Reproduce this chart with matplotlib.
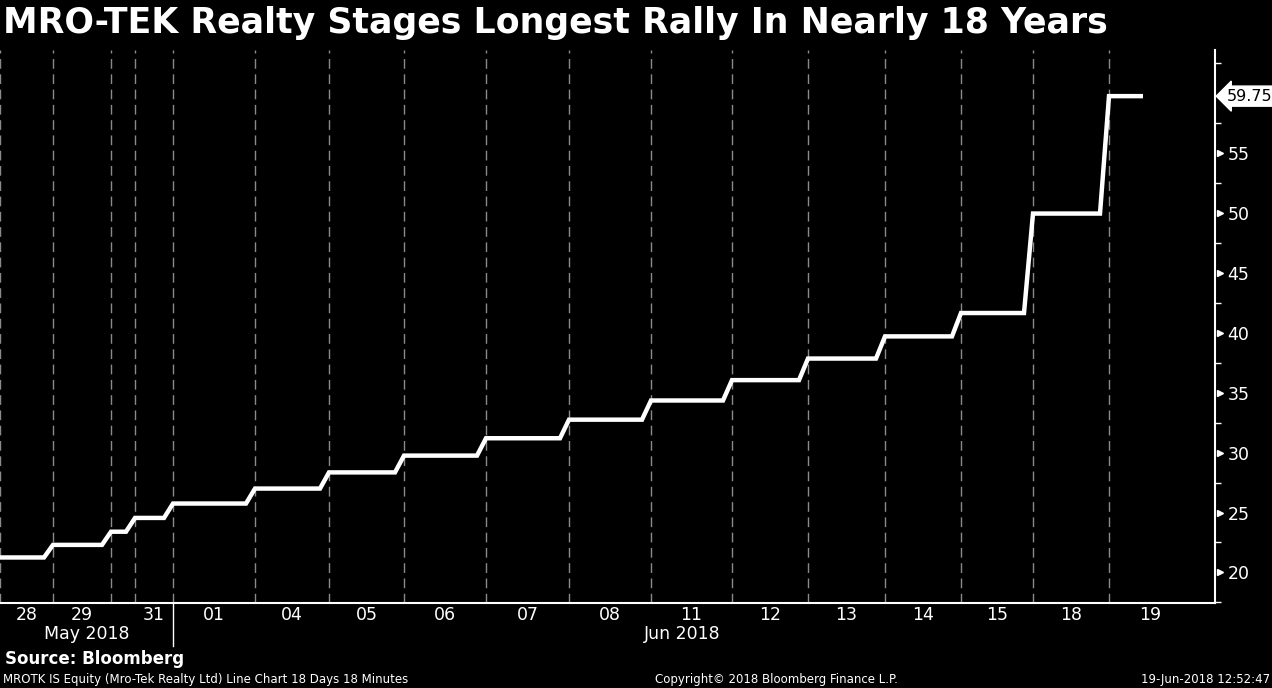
import numpy as np
import matplotlib.pyplot as plt
import matplotlib.transforms as mtransforms

# sessions (bar index at each day's open), last entry = end of the last session
day_labels = ['28', '29', '', '31', '01', '04', '05', '06', '07', '08',
              '11', '12', '13', '14', '15', '18', '19']
session_open = [0, 53, 111, 135, 173, 255, 329, 404, 486, 569, 651, 732,
                808, 885, 961, 1033, 1109, 1191]
# price held all day (upper circuit every session)
day_price = [21.25, 22.30, 23.40, 24.55, 25.75, 27.00, 28.35, 29.75, 31.20,
             32.75, 34.35, 36.05, 37.85, 39.70, 41.65, 49.95, 59.75]
last_bar = 1143      # last minute bar of 19-Jun
close_gap = 9        # bars between last trade and next open
last_price = 59.75

month_labels = ['May 2018', 'Jun 2018']
month_start = [0, 173]
month_end = [173, 1191]

y_major = [20, 25, 30, 35, 40, 45, 50, 55]
y_minor = [17.5, 22.5, 27.5, 32.5, 37.5, 42.5, 47.5, 52.5, 57.5, 62.5]

# build step line
xs, ys = [], []
for i, p in enumerate(day_price):
    start = session_open[i]
    if i < len(day_price) - 1:
        end = session_open[i + 1] - close_gap
    else:
        end = last_bar
    xs += [start, end]
    ys += [p, p]

W, H = 1272, 688
fig = plt.figure(figsize=(W / 100, H / 100), dpi=100, facecolor='black')
ax = fig.add_axes([0, 1 - 603 / H, 1215 / W, 553 / H], facecolor='black')

for x in session_open[:-1]:
    ax.axvline(x, color='#8a8a8a', lw=1, ls=(0, (7, 4)), zorder=1)

ax.plot(xs, ys, color='white', lw=3.2, solid_joinstyle='miter',
        solid_capstyle='butt', zorder=3)

ax.set_xlim(0, 1215)
ax.set_ylim(17.45, 63.6)

for s in ['left', 'top']:
    ax.spines[s].set_visible(False)
for s in ['right', 'bottom']:
    ax.spines[s].set_color('white')
    ax.spines[s].set_linewidth(1.5)

ax.set_xticks([])
ax.yaxis.tick_right()
ax.set_yticks(y_major)
ax.set_yticks(y_minor, minor=True)
ax.tick_params(axis='y', which='major', length=0, pad=9, labelcolor='white',
               labelsize=12.5)
ax.tick_params(axis='y', which='minor', length=4, width=1, color='white',
               direction='out')

# triangle markers on the major ticks
tri = mtransforms.offset_copy(ax.get_yaxis_transform(), fig=fig, x=5, y=0,
                              units='dots')
ax.plot([1.0] * len(y_major), y_major, ls='none', marker='>', ms=5,
        color='white', transform=tri, clip_on=False)

# last price tag
tag = mtransforms.offset_copy(ax.get_yaxis_transform(), fig=fig, x=12, y=0,
                              units='dots')
ax.text(1.0, last_price, f'{last_price:.2f}', transform=tag, ha='left',
        va='center', fontsize=11.5, color='black', clip_on=False,
        bbox=dict(boxstyle='larrow,pad=0.16', fc='white', ec='white'))

# day labels and months
lab_tr = mtransforms.blended_transform_factory(ax.transData, fig.transFigure)
for i, lab in enumerate(day_labels):
    if lab:
        xc = (session_open[i] + session_open[i + 1]) / 2
        ax.text(xc, 1 - 615 / H, lab, transform=lab_tr, ha='center',
                va='center', color='white', fontsize=12.5)
for lab, a, b in zip(month_labels, month_start, month_end):
    ax.text((a + b) / 2, 1 - 634 / H, lab, transform=lab_tr, ha='center',
            va='center', color='white', fontsize=12.5)
ax.plot([month_end[0], month_end[0]], [1 - 603 / H, 1 - 646 / H],
        transform=lab_tr, color='white', lw=1, clip_on=False)

fig.text(3 / W, 1 - 23 / H, 'MRO-TEK Realty Stages Longest Rally In Nearly 18 Years',
         color='white', fontsize=25, fontweight='bold', ha='left', va='center')
fig.text(5 / W, 1 - 659 / H, 'Source: Bloomberg', color='white', fontsize=12,
         fontweight='bold', ha='left', va='center')
fig.text(3 / W, 1 - 679 / H,
         'MROTK IS Equity (Mro-Tek Realty Ltd) Line Chart 18 Days 18 Minutes',
         color='white', fontsize=8.5, ha='left', va='center')
fig.text(655 / W, 1 - 679 / H, 'Copyright\u00a9 2018 Bloomberg Finance L.P.',
         color='white', fontsize=8.5, ha='left', va='center')
fig.text(1270 / W, 1 - 679 / H, '19-Jun-2018 12:52:47', color='white',
         fontsize=8.5, ha='right', va='center')

fig.savefig('out.png', dpi=100, facecolor='black')
